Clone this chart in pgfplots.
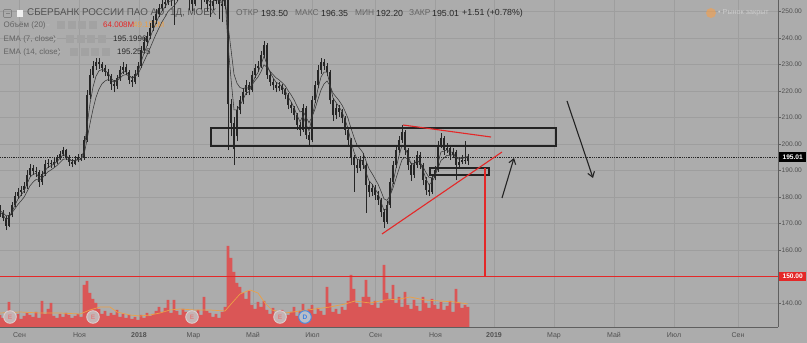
\documentclass[border=0pt]{standalone}
\usepackage{fontspec}
\setmainfont{Liberation Sans}
\usepackage{pgfplots}
\usepackage{pgfplotstable}
\pgfplotsset{compat=1.18}
\usetikzlibrary{arrows.meta}

\definecolor{bgc}{RGB}{172,172,172}
\definecolor{gridc}{RGB}{158,158,158}
\definecolor{axc}{RGB}{95,95,95}
\definecolor{tlc}{RGB}{80,80,80}
\definecolor{candc}{RGB}{38,38,38}
\definecolor{emac}{RGB}{55,55,55}
\definecolor{volc}{RGB}{218,86,86}
\definecolor{volmac}{RGB}{236,160,70}
\definecolor{redc}{RGB}{228,40,40}
\definecolor{rectc}{RGB}{35,35,35}
\definecolor{ttlc}{RGB}{82,82,82}
\definecolor{lblc}{RGB}{100,100,100}
\definecolor{valc}{RGB}{40,40,40}
\definecolor{iconc}{RGB}{162,162,162}
\definecolor{iconb}{RGB}{178,178,178}

\pgfplotstableread{
x o h l c e7 e14
0 175.5 177.0 172.5 174.0 174.3 174.8
3 174.0 175.2 170.8 172.1 173.3 174.1
6 172.1 173.0 167.5 169.1 171.5 172.9
9 169.1 174.5 168.5 173.2 172.2 173.0
12 173.2 178.2 172.4 177.0 174.3 174.0
15 177.0 181.8 176.1 180.4 177.0 175.6
18 180.4 183.5 179.3 181.9 179.2 177.2
21 181.9 184.2 180.5 182.6 180.7 178.5
24 182.6 185.6 181.4 184.1 182.2 179.9
27 184.1 190.1 183.2 188.3 184.9 182.0
30 188.3 192.4 187.5 190.9 187.5 184.2
33 190.9 192.0 188.4 189.8 188.5 185.6
36 189.8 191.3 187.6 189.4 188.9 186.6
39 189.4 190.2 183.8 185.7 187.5 186.4
42 185.7 189.9 184.6 188.7 188.0 187.0
45 188.7 193.9 187.8 192.5 190.0 188.4
48 192.5 194.2 191.0 192.8 191.2 189.5
51 192.8 194.0 190.8 192.5 191.8 190.2
54 192.5 194.6 191.5 193.2 192.4 191.0
57 193.2 196.0 192.6 194.7 193.4 191.9
60 194.7 197.4 193.9 196.2 194.6 193.0
63 196.2 198.9 195.3 197.7 196.0 194.2
66 197.7 198.2 193.9 195.1 195.6 194.4
69 195.1 195.9 191.8 193.2 194.5 194.1
72 193.2 194.3 191.2 192.5 193.6 193.7
75 192.5 195.3 191.9 194.0 193.8 193.8
78 194.0 196.1 193.2 194.7 194.2 194.0
81 194.7 196.4 193.6 194.7 194.4 194.2
84 194.7 203.0 194.0 201.5 197.5 196.0
87 201.5 220.5 200.8 218.5 206.7 201.6
90 218.5 228.2 217.0 226.0 215.2 207.7
93 226.0 231.3 224.8 229.4 221.5 213.1
96 229.4 232.6 228.1 230.9 225.6 217.6
99 230.9 232.4 228.4 230.2 227.6 220.7
102 230.2 231.1 227.0 228.7 228.1 222.7
105 228.7 229.8 225.5 227.2 227.7 223.8
108 227.2 228.3 223.8 225.7 226.8 224.3
111 225.7 226.4 220.5 222.6 225.0 223.9
114 222.6 224.0 219.6 221.9 223.6 223.4
117 221.9 226.1 220.8 224.9 224.2 223.8
120 224.9 229.3 223.9 227.9 225.8 224.8
123 227.9 230.8 226.5 229.1 227.3 225.9
126 229.1 230.0 225.9 227.2 227.2 226.2
129 227.2 228.0 222.7 224.2 225.9 225.7
132 224.2 225.6 221.6 223.4 224.8 225.1
135 223.4 227.8 222.5 226.4 225.5 225.4
138 226.4 230.9 225.3 229.4 227.2 226.4
141 229.4 237.0 228.6 235.5 230.9 228.7
144 235.5 240.4 234.2 238.5 234.2 231.2
147 238.5 242.3 237.1 240.8 237.1 233.6
150 240.8 245.6 239.5 243.8 240.1 236.1
153 243.8 248.3 242.6 246.8 243.0 238.8
156 246.8 250.9 245.4 249.1 245.7 241.4
159 249.1 253.0 247.9 251.3 248.2 243.8
162 251.3 254.6 250.2 252.8 250.2 246.1
165 252.8 255.5 251.4 253.6 251.7 247.9
168 253.6 258.0 252.6 256.2 253.7 250.0
171 256.2 257.5 252.0 254.3 254.0 251.1
174 254.3 257.0 245.0 255.1 254.5 252.1
177 255.1 260.0 253.9 258.1 256.1 253.6
180 258.1 264.0 257.0 262.0 258.7 255.7
183 262.0 268.0 260.5 266.0 261.9 258.3
186 266.0 267.0 258.5 260.0 261.1 258.7
189 260.0 261.0 250.5 255.0 258.4 257.8
192 255.0 257.0 250.0 253.0 256.0 256.6
195 253.0 258.0 252.0 256.0 256.0 256.4
198 256.0 260.0 254.5 258.0 256.9 256.8
201 258.0 259.0 251.0 255.0 256.1 256.4
204 255.0 258.0 253.5 256.0 256.0 256.3
207 256.0 257.0 250.0 253.0 254.7 255.5
210 253.0 255.0 248.0 252.0 253.5 254.6
213 252.0 256.0 250.5 254.0 253.7 254.4
216 254.0 258.0 253.0 256.0 254.7 254.8
219 256.0 257.0 247.0 253.0 254.0 254.4
222 253.0 255.0 246.0 252.0 253.1 253.8
225 252.0 260.0 251.0 258.0 255.3 254.8
228 258.0 260.0 197.7 215.0 237.6 244.9
231 215.0 217.0 203.0 208.0 224.6 235.7
234 208.0 210.0 192.0 198.0 212.9 226.3
237 203.0 214.5 201.0 212.8 212.9 222.9
240 212.8 218.2 211.2 216.6 214.5 221.3
243 216.6 221.0 215.0 219.6 216.7 220.9
246 219.6 224.0 218.4 222.3 219.2 221.3
249 222.3 223.5 218.6 220.4 219.7 221.0
252 220.4 227.6 219.5 226.0 222.5 222.3
255 226.0 230.3 224.9 228.7 225.2 223.9
258 228.7 231.2 227.3 229.4 227.0 225.3
261 229.4 235.2 228.5 233.6 229.9 227.3
264 233.6 239.0 232.4 237.4 233.2 229.9
267 237.4 238.0 224.6 226.0 230.0 228.9
270 226.0 227.0 221.8 223.4 227.1 227.5
273 223.4 224.6 220.5 222.3 225.0 226.2
276 222.3 223.5 219.6 221.1 223.3 225.0
279 221.1 223.3 219.9 221.9 222.7 224.2
282 221.9 222.8 218.7 220.4 221.7 223.2
285 220.4 221.3 216.8 218.5 220.3 222.1
288 218.5 219.3 213.1 214.7 217.8 220.2
291 214.7 216.0 211.8 213.6 216.0 218.6
294 213.6 214.5 209.0 210.9 213.8 216.7
297 210.9 211.6 205.3 207.2 210.9 214.3
300 207.2 208.4 203.0 205.3 208.4 212.1
303 205.3 215.0 204.6 213.6 210.7 212.4
306 213.6 214.2 201.9 203.4 207.5 210.2
309 203.4 204.5 199.2 201.5 204.9 208.0
312 201.5 218.0 200.6 216.6 210.0 210.2
315 216.6 223.9 215.4 222.3 215.4 213.2
318 222.3 229.8 221.0 227.9 220.9 216.9
321 227.9 232.4 226.6 230.9 225.3 220.4
324 230.9 231.9 227.8 229.4 227.1 222.6
327 229.4 230.5 225.5 227.2 227.1 223.8
330 227.2 228.0 215.0 216.6 222.5 222.0
333 216.6 217.5 208.5 210.9 217.4 219.2
336 210.9 215.2 209.5 213.6 215.7 217.8
339 213.6 214.6 210.2 212.1 214.1 216.4
342 212.1 213.3 207.9 209.8 212.2 214.7
345 209.8 210.6 203.5 205.3 209.2 212.4
348 205.3 206.2 199.6 201.5 205.8 209.7
351 201.5 202.4 192.2 194.7 200.9 205.9
354 194.7 196.0 182.0 192.1 197.0 202.5
357 192.1 194.2 189.0 190.9 194.3 199.6
360 190.9 195.5 189.8 194.0 194.2 198.2
363 194.0 196.5 190.5 192.1 193.3 196.7
366 192.1 193.0 174.0 184.5 189.4 193.6
369 184.5 186.0 180.0 181.9 186.1 190.7
372 181.9 185.0 180.4 183.4 184.9 188.9
375 183.4 184.6 179.0 180.8 183.1 186.9
378 180.8 182.2 177.0 178.9 181.3 184.9
381 178.9 179.7 172.5 174.3 178.2 182.2
384 174.3 175.5 168.3 170.6 174.9 179.3
387 170.6 178.6 169.8 177.0 175.8 178.7
390 177.0 187.3 176.0 185.7 180.2 180.5
393 185.7 193.6 184.8 192.1 185.4 183.4
396 192.1 199.2 191.0 197.7 190.8 187.0
399 197.7 203.0 196.6 201.5 195.5 190.6
402 201.5 207.0 200.4 204.5 199.5 194.1
405 204.5 205.2 196.0 197.7 198.7 195.0
408 197.7 198.6 190.3 192.1 195.8 194.2
411 192.1 193.0 186.2 188.3 192.5 192.8
414 188.3 193.9 187.2 192.1 192.3 192.6
417 192.1 197.5 191.0 195.8 193.8 193.4
420 195.8 196.8 190.4 192.1 193.1 193.1
423 192.1 193.0 184.4 186.4 190.1 191.4
426 186.4 187.4 180.8 182.6 186.8 189.2
429 182.6 185.0 180.3 181.9 184.6 187.4
432 181.9 188.6 181.0 187.2 185.8 187.3
435 187.2 191.8 186.3 190.2 187.7 188.1
438 190.2 201.3 189.4 199.6 192.9 190.9
441 199.6 204.0 198.5 202.3 197.0 193.8
444 202.3 203.0 196.0 197.7 197.3 194.7
447 197.7 200.2 196.6 198.5 197.8 195.7
450 198.5 199.4 194.0 195.8 196.9 195.7
453 195.8 198.6 194.9 197.0 196.9 196.0
456 197.0 197.8 186.5 192.1 194.8 195.0
459 192.1 194.9 191.0 193.2 194.3 194.8
462 193.2 195.8 192.3 194.0 194.6 194.9
465 194.0 201.0 192.5 193.5 194.8 195.0
468 193.5 196.35 192.2 195.01 195.2 195.25
}\cand

\pgfplotstableread{
x v
0 38.4
3 28.8
6 44.8
9 80
12 38.4
15 32
18 41.6
21 25.6
24 35.2
27 44.8
30 38.4
33 32
36 48
39 28.8
42 83.2
45 41.6
48 57.6
51 76.8
54 35.2
57 28.8
60 41.6
63 32
66 44.8
69 38.4
72 28.8
75 35.2
78 41.6
81 32
84 134.4
87 147.2
90 108.8
93 89.6
96 76.8
99 57.6
102 41.6
105 51.2
108 35.2
111 44.8
114 38.4
117 54.4
120 32
123 41.6
126 28.8
129 38.4
132 25.6
135 32
138 22.4
141 38.4
144 28.8
147 44.8
150 35.2
153 41.6
156 51.2
159 64
162 48
165 60.8
168 86.4
171 44.8
174 86.4
177 51.2
180 38.4
183 57.6
186 48
189 41.6
192 35.2
195 44.8
198 54.4
201 38.4
204 96
207 51.2
210 44.8
213 32
216 41.6
219 28.8
222 48
225 64
228 259.2
231 220.8
234 176
237 140.8
240 128
243 108.8
246 89.6
249 115.2
252 70.4
255 57.6
258 80
261 64
264 83.2
267 54.4
270 41.6
273 60.8
276 32
279 44.8
282 54.4
285 28.8
288 38.4
291 48
294 64
297 35.2
300 51.2
303 73.6
306 44.8
309 57.6
312 70.4
315 41.6
318 60.8
321 51.2
324 38.4
327 128
330 76.8
333 48
336 57.6
339 41.6
342 64
345 54.4
348 83.2
351 166.4
354 121.6
357 76.8
360 64
363 96
366 150.4
369 96
372 70.4
375 83.2
378 60.8
381 76.8
384 198.4
387 108.8
390 89.6
393 134.4
396 76.8
399 96
402 64
405 112
408 70.4
411 57.6
414 86.4
417 67.2
420 51.2
423 96
426 76.8
429 60.8
432 89.6
435 70.4
438 57.6
441 80
444 54.4
447 67.2
450 83.2
453 48
456 121.6
459 76.8
462 60.8
465 70.4
468 64.008
}\vol

\pgfplotstableread{
x m
0 44.8
20 48
40 44.8
60 44.8
80 41.6
90 54.4
100 64
110 64
117 48
130 38.4
140 35.2
150 38.4
160 44.8
170 54.4
180 57.6
195 54.4
210 54.4
225 51.2
232 76.8
240 105.6
250 118.4
258 108.8
265 76.8
272 54.4
285 44.8
300 51.2
315 57.6
330 64
345 73.6
355 83.2
370 76.8
385 86.4
400 89.6
410 96
425 86.4
440 83.2
455 80
468 73.6
}\volma

\pgfplotsset{
  base/.style={scale only axis, width=778pt, height=327pt, xmin=0, xmax=778,
    at={(0pt,16pt)}, anchor=south west},
}

\begin{document}
\begin{tikzpicture}[x=1pt,y=1pt]
\fill[bgc] (0,0) rectangle (807,343);
\useasboundingbox (0,0) rectangle (807,343);

% grid, frame and ticks
\begin{axis}[base, ymin=130.94, ymax=254.34,
  axis x line*=bottom, axis y line*=right,
  axis line style={draw=axc, line width=0.9pt},
  xtick={19.5,79.5,139,193.5,253,312.5,375.5,435.5,494,554,614,674,738},
  xticklabels={Сен,Ноя,\textbf{2018},Мар,Май,Июл,Сен,Ноя,\textbf{2019},Мар,Май,Июл,Сен},
  xtick style={draw=none},
  ytick={140,150,...,250},
  yticklabel={\pgfmathprintnumber[fixed,fixed zerofill,precision=2,assume math mode=true]{\tick}},
  ytick style={draw=axc, line width=0.6pt},
  tick align=outside, major tick length=2.5pt,
  yticklabel style={font=\fontsize{6.6}{8}\selectfont, text=tlc, anchor=west, inner sep=0pt, xshift=1pt},
  xticklabel style={font=\fontsize{7}{8}\selectfont, text=tlc, anchor=north, inner sep=0pt, yshift=-3pt},
  grid=major, major grid style={draw=gridc, line width=0.6pt},
]
\addplot[draw=none, forget plot] coordinates {(0,140)};
\end{axis}

% header legend
\draw[iconc!80!black, line width=0.6pt, rounded corners=1pt] (3.5,325.5) rectangle (11.5,333.5);
\draw[iconc!80!black, line width=0.6pt] (5.5,329.5) -- (9.5,329.5);
\fill[white!88!gray] (17,326) rectangle (23,333);
\node[anchor=west, inner sep=0pt, font=\fontsize{9.8}{11}\selectfont, text=ttlc] at (27,330) {СБЕРБАНК РОССИИ ПАО АО, 1Д, MOEX};
\begin{scope}[every node/.style={anchor=west, inner sep=0pt}]
\node[font=\fontsize{8.4}{10}\selectfont, text=lblc] at (236,330) {ОТКР};
\node[font=\fontsize{8.8}{10}\selectfont, text=valc] at (261,330) {193.50};
\node[font=\fontsize{8.4}{10}\selectfont, text=lblc] at (295,330) {МАКС};
\node[font=\fontsize{8.8}{10}\selectfont, text=valc] at (321,330) {196.35};
\node[font=\fontsize{8.4}{10}\selectfont, text=lblc] at (355,330) {МИН};
\node[font=\fontsize{8.8}{10}\selectfont, text=valc] at (376,330) {192.20};
\node[font=\fontsize{8.4}{10}\selectfont, text=lblc] at (409,330) {ЗАКР};
\node[font=\fontsize{8.8}{10}\selectfont, text=valc] at (432,330) {195.01};
\node[font=\fontsize{8.8}{10}\selectfont, text=valc] at (462,330) {+1.51 (+0.78\%)};
% indicator lines
\node[font=\fontsize{8}{9}\selectfont, text=lblc] at (3.5,318) {Объём (20)};
\node[font=\fontsize{8}{9}\selectfont, text=redc] at (103,318) {64.008M};
\node[font=\fontsize{8}{9}\selectfont, text=volmac] at (133,318) {49.153M};
\node[font=\fontsize{8}{9}\selectfont, text=lblc] at (3.5,304) {EMA (7, close)};
\node[font=\fontsize{8}{9}\selectfont, text=valc] at (113,304) {195.1996};
\node[font=\fontsize{8}{9}\selectfont, text=lblc] at (3.5,291) {EMA (14, close)};
\node[font=\fontsize{8}{9}\selectfont, text=valc] at (117,291) {195.2545};
\node[font=\fontsize{7.2}{8}\selectfont, text=white!60!gray] at (718,330) {\textbullet\ Рынок закрыт};
\end{scope}
\foreach \yy/\cx/\ix in {318/48/57, 304/55/66, 291/59/70}{
  \fill[iconb] (\cx-2,\yy+1) -- (\cx+2,\yy+1) -- (\cx,\yy-1.5) -- cycle;
  \foreach \k in {0,1,2,3}{
    \fill[iconc] (\ix+\k*10.5,\yy-4) rectangle (\ix+\k*10.5+8,\yy+4);
  }
}
\fill[orange!75!white, opacity=0.55] (711,330) circle (5);

% volume
\begin{axis}[base, ymin=0, ymax=1046.4, hide axis]
\addplot[ybar, bar width=2.8, fill=volc, draw=none] table[x=x, y=v] {\vol};
\addplot[volmac, line width=0.7pt] table[x=x, y=m] {\volma};
\end{axis}

% earnings / dividend markers
\foreach \ex in {10,93,192,280}{
  \filldraw[fill={rgb,255:red,196;green,180;blue,180}, draw={rgb,255:red,222;green,212;blue,212}, line width=0.8pt] (\ex,26) circle (6.3);
  \node[font=\fontsize{6.5}{7}\selectfont\bfseries, text={rgb,255:red,222;green,128;blue,128}] at (\ex,26) {E};
}
\filldraw[fill={rgb,255:red,186;green,190;blue,200}, draw={rgb,255:red,70;green,140;blue,225}, line width=0.9pt] (305,26) circle (6.3);
\node[font=\fontsize{6.5}{7}\selectfont\bfseries, text={rgb,255:red,60;green,130;blue,225}] at (305,26) {D};

% price
\begin{axis}[base, ymin=130.94, ymax=254.34, hide axis]
\addplot[redc, line width=0.9pt] coordinates {(0,150) (778,150)};
\addplot[black!85, line width=0.7pt, dash pattern=on 0.9pt off 0.9pt] coordinates {(0,195.01) (778,195.01)};
\addplot[draw=none, mark=none, error bars/.cd, y dir=plus, y explicit, error mark=none,
  error bar style={draw=candc, line width=0.7pt}]
  table[x=x, y=l, y error expr=\thisrow{h}-\thisrow{l}] {\cand};
\addplot[draw=none, mark=none, error bars/.cd, y dir=plus, y explicit, error mark=none,
  error bar style={draw=candc, line width=2.1pt}]
  table[x=x, y expr={min(\thisrow{o},\thisrow{c})}, y error expr={max(abs(\thisrow{c}-\thisrow{o}),0.2)}] {\cand};
\addplot[emac, line width=0.55pt] table[x=x, y=e7] {\cand};
\addplot[emac, line width=0.55pt] table[x=x, y=e14] {\cand};
% drawn levels
\addplot[rectc, line width=1.3pt, line join=miter] coordinates {(211,206.04) (556,206.04) (556,199.25) (211,199.25)} -- cycle;
\addplot[rectc, line width=1.2pt, line join=miter] coordinates {(430,190.94) (489,190.94) (489,188.30) (430,188.30)} -- cycle;
\addplot[redc, line width=1.1pt] coordinates {(382,166.04) (502,196.98)};
\addplot[redc, line width=1.1pt] coordinates {(403,207.17) (491,202.64)};
\addplot[redc, line width=1.1pt] coordinates {(485,190.94) (485,150)};
\addplot[rectc, line width=1.1pt, -{Straight Barb[length=5pt,width=7pt]}] coordinates {(502,179.62) (514,194.72)};
\addplot[rectc, line width=1.1pt, -{Straight Barb[length=5pt,width=7pt]}] coordinates {(567,216.23) (593,187.17)};
\end{axis}

% price labels
\node[fill=black, text=white, font=\fontsize{6.6}{8}\selectfont\bfseries, inner sep=0pt, minimum width=27pt, minimum height=9.5pt, anchor=west] at (779,185.8) {195.01};
\node[fill=redc, text=white, font=\fontsize{6.6}{8}\selectfont\bfseries, inner sep=0pt, minimum width=27pt, minimum height=9.5pt, anchor=west] at (779,66.5) {150.00};
\end{tikzpicture}
\end{document}
